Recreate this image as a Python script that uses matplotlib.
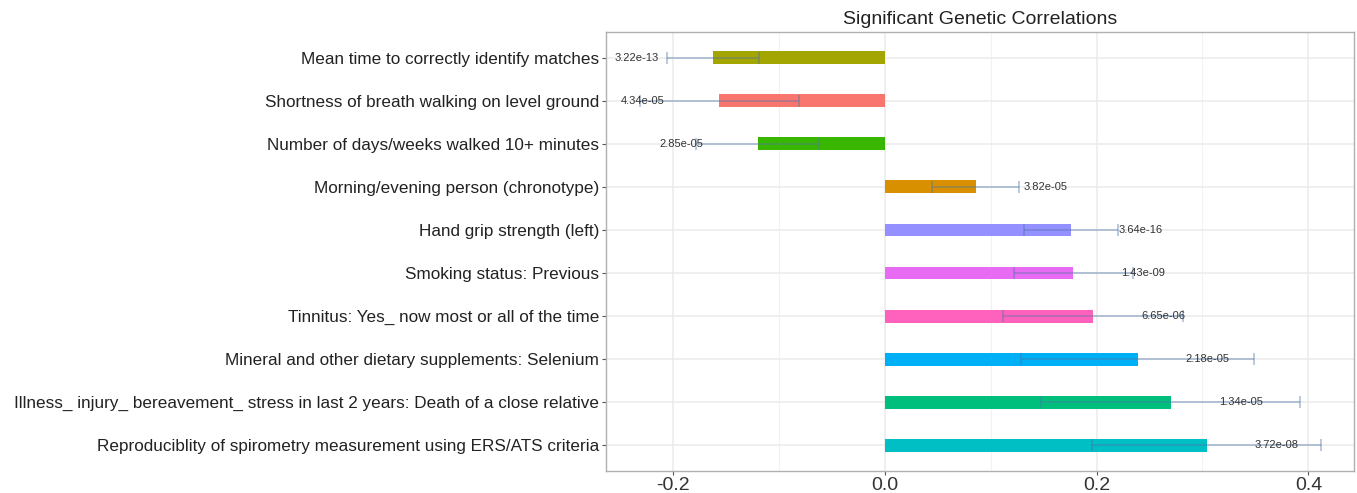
import matplotlib
matplotlib.use("Agg")
import matplotlib.pyplot as plt
from matplotlib.ticker import MultipleLocator

plt.rcParams['font.family'] = ['Liberation Sans', 'DejaVu Sans']

# traits, top to bottom
traits = [
    "Mean time to correctly identify matches",
    "Shortness of breath walking on level ground",
    "Number of days/weeks walked 10+ minutes",
    "Morning/evening person (chronotype)",
    "Hand grip strength (left)",
    "Smoking status: Previous",
    "Tinnitus: Yes_ now most or all of the time",
    "Mineral and other dietary supplements: Selenium",
    "Illness_ injury_ bereavement_ stress in last 2 years: Death of a close relative",
    "Reproduciblity of spirometry measurement using ERS/ATS criteria",
]
rg = [-0.162, -0.156, -0.120, 0.086, 0.176, 0.178, 0.197, 0.239, 0.270, 0.304]
se = [0.043, 0.075, 0.058, 0.041, 0.044, 0.056, 0.085, 0.110, 0.122, 0.108]
pvals = ["3.22e-13", "4.34e-05", "2.85e-05", "3.82e-05", "3.64e-16",
         "1.43e-09", "6.65e-06", "2.18e-05", "1.34e-05", "3.72e-08"]
colors = ["#A3A500", "#F8766D", "#39B600", "#D89000", "#9590FF",
          "#E76BF3", "#FF62BC", "#00B0F6", "#00BF7D", "#00BFC4"]

fig = plt.figure(figsize=(13.57, 4.93), dpi=100)
ax = fig.add_axes([606 / 1357, 22 / 493, 748 / 1357, 439 / 493])

n = len(traits)
ypos = list(range(n))

ax.barh(ypos, rg, height=0.3, color=colors, zorder=2)
ax.errorbar(rg, ypos, xerr=se, fmt='none', ecolor='#4f74a8', alpha=0.45,
            elinewidth=1.2, capsize=4, capthick=1.2, zorder=3)

# p-value labels just beyond each bar
for y, v, p in zip(ypos, rg, pvals):
    off = 0.066 if v > 0 else -0.072
    ax.text(v + off, y, p, ha='center', va='center', fontsize=8,
            color='#333333', zorder=4)

ax.set_yticks(ypos)
ax.set_yticklabels(traits, fontsize=12.3, color='#222222')
ax.set_ylim(n - 0.4, -0.6)
ax.set_xlim(-0.263, 0.443)

ax.xaxis.set_minor_locator(MultipleLocator(0.1))
ax.set_xticks([-0.2, 0.0, 0.2, 0.4])
ax.set_xticklabels(["-0.2", "0.0", "0.2", "0.4"], fontsize=14, color='#333333')

ax.grid(which='major', color='#ebebeb', linewidth=1.1, zorder=0)
ax.grid(which='minor', axis='x', color='#f2f2f2', linewidth=0.8, zorder=0)
ax.set_axisbelow(True)
ax.tick_params(which='major', length=3, color='#555555', width=0.8)
ax.tick_params(axis='x', pad=1)
ax.tick_params(axis='y', pad=2)
ax.tick_params(which='minor', length=0)
for s in ax.spines.values():
    s.set_color('#b0b0b0')
    s.set_linewidth(1.0)

ax.set_title("Significant Genetic Correlations", fontsize=14, color='#222222', pad=6)

fig.savefig("out.png", dpi=100)
